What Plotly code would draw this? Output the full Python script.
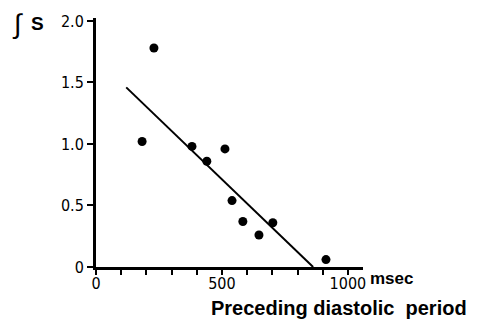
import plotly.graph_objects as go

# data
interval_ms = [183, 230, 381, 440, 512, 540, 583, 647, 702, 913]
integral_s = [1.02, 1.78, 0.98, 0.86, 0.96, 0.54, 0.37, 0.26, 0.36, 0.06]
fit_x = [120, 862]
fit_y = [1.46, 0.0]
x_tickvals = [0, 500, 1000]
x_ticktext = ["0", "500", "1000"]
y_tickvals = [0, 0.5, 1.0, 1.5, 2.0]
y_ticktext = ["0", "0.5", "1.0", "1.5", "2.0"]

tick_font = dict(family="Liberation Sans Narrow, DejaVu Sans Condensed, Liberation Sans, Arial",
                 size=16, color="black")
label_font = "Liberation Sans, Arial"

L, R, T, B = 96, 116, 14, 54
W, H = 479, 321
pw, ph = W - L - R, H - T - B


def px(xp):
    return (xp - L) / pw


def py(yp):
    return (H - B - yp) / ph


fig = go.Figure()
fig.add_trace(go.Scatter(x=fit_x, y=fit_y, mode="lines",
                         line=dict(color="black", width=2), showlegend=False))
fig.add_trace(go.Scatter(x=interval_ms, y=integral_s, mode="markers",
                         marker=dict(color="black", size=9), showlegend=False))

fig.update_layout(
    width=W, height=H,
    margin=dict(l=L, r=R, t=T, b=B),
    paper_bgcolor="white", plot_bgcolor="white",
    xaxis=dict(range=[0, 1060], showgrid=False, zeroline=False,
               showline=True, linewidth=3, linecolor="black",
               tickvals=x_tickvals, ticktext=x_ticktext,
               ticks="outside", ticklen=5, tickwidth=2, tickcolor="black",
               ticklabelstandoff=-5,
               minor=dict(dtick=100, tick0=0, ticks="outside", ticklen=5,
                          tickwidth=2, tickcolor="black"),
               tickfont=tick_font),
    yaxis=dict(range=[0, 2.024], showgrid=False, zeroline=False,
               showline=True, linewidth=3, linecolor="black",
               tickvals=y_tickvals, ticktext=y_ticktext,
               ticks="outside", ticklen=6, tickwidth=2, tickcolor="black",
               tickfont=tick_font),
    annotations=[
        dict(text="<i>∫</i>", x=px(17), y=py(20),
             xref="paper", yref="paper",
             showarrow=False, xanchor="center", yanchor="middle",
             font=dict(family=label_font, size=27, color="black")),
        dict(text="<b>S</b>", x=px(29), y=py(20),
             xref="paper", yref="paper",
             showarrow=False, xanchor="left", yanchor="middle",
             font=dict(family=label_font, size=19, color="black")),
        dict(text="<b>msec</b>", x=px(368), y=py(279),
             xref="paper", yref="paper",
             showarrow=False, xanchor="left", yanchor="middle",
             font=dict(family=label_font, size=17, color="black")),
        dict(text="<b>Preceding diastolic  period</b>", x=px(339),
             y=py(309), xref="paper", yref="paper",
             showarrow=False, xanchor="center", yanchor="middle",
             font=dict(family=label_font, size=20, color="black")),
    ],
)

fig.write_html("out.html", config={"displayModeBar": False},
               post_script="document.body.style.margin='0';")
